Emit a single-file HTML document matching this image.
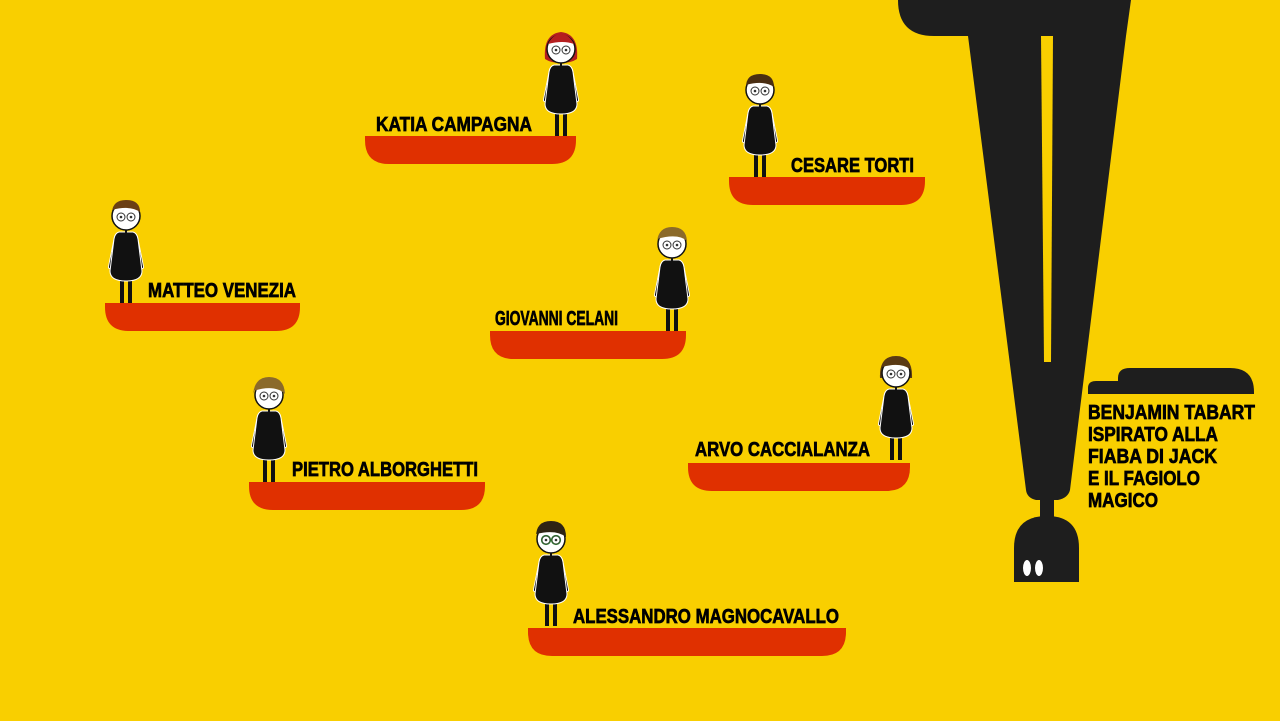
<!DOCTYPE html>
<html><head><meta charset="utf-8"><style>
html,body{margin:0;padding:0;background:#f9cf00;}
svg{display:block}
text{font-family:"Liberation Sans",sans-serif;font-weight:bold;font-size:20px;fill:#000;stroke:#000;stroke-width:0.7}
</style></head><body>
<svg width="1280" height="721" viewBox="0 0 1280 721" xmlns="http://www.w3.org/2000/svg">
<rect width="1280" height="721" fill="#f9cf00"/>
<defs>
<g id="fig">
  <rect x="-6" y="80" width="4" height="24" fill="#111"/>
  <rect x="2" y="80" width="4" height="24" fill="#111"/>
  <path d="M-10,38 L-16,68" stroke="#fff" stroke-width="4" stroke-linecap="round"/>
  <path d="M10,38 L16,68" stroke="#fff" stroke-width="4" stroke-linecap="round"/>
  <path d="M-10,38 L-16,68" stroke="#111" stroke-width="2.2" stroke-linecap="round"/>
  <path d="M10,38 L16,68" stroke="#111" stroke-width="2.2" stroke-linecap="round"/>
  <path d="M-7,33 L7,33 Q11,34 12,40 L16,72 Q16,82 0,82 Q-16,82 -16,72 L-12,40 Q-11,34 -7,33Z" fill="#111" stroke="#fff" stroke-width="1"/>
  <rect x="-1" y="28" width="2" height="6" fill="#111"/>
  <circle cx="0" cy="17" r="14" fill="#fff" stroke="#111" stroke-width="1.5"/>
  <circle cx="-5" cy="18" r="4" fill="none" stroke="#333" stroke-width="1"/>
  <circle cx="5" cy="18" r="4" fill="none" stroke="#333" stroke-width="1"/>
  <circle cx="-5" cy="18" r="1.3" fill="#333"/>
  <circle cx="5" cy="18" r="1.3" fill="#333"/>
</g>
</defs>

<path d="M898,0 L1131,0 L1126,36 L934,36 Q898,36 898,0Z" fill="#1e1e1e"/>
<path d="M968,36 L1126,36 L1070,490 Q1068,498 1058,500 L1036,500 Q1027,498 1026,490 Z" fill="#1e1e1e"/>
<path d="M1041,36 L1053,36 L1051,362 L1044,362 Z" fill="#f9cf00"/>
<rect x="1040" y="495" width="14" height="22" fill="#1e1e1e"/>
<path d="M1014,582 L1014,548 Q1014,516 1047,516 Q1079,516 1079,548 L1079,582 Z" fill="#1e1e1e"/>
<ellipse cx="1027" cy="568" rx="4" ry="8" fill="#fff"/>
<ellipse cx="1039" cy="568" rx="4" ry="8" fill="#fff"/>
<path d="M1118,394 L1118,378 Q1118,368 1130,368 L1230,368 Q1254,368 1254,392 L1254,394 Z" fill="#1e1e1e"/>
<path d="M1088,394 L1088,388 Q1088,381 1096,381 L1120,381 L1120,394 Z" fill="#1e1e1e"/>
<text x="1088" y="419" textLength="167" lengthAdjust="spacingAndGlyphs">BENJAMIN TABART</text>
<text x="1088" y="441" textLength="130" lengthAdjust="spacingAndGlyphs">ISPIRATO ALLA</text>
<text x="1088" y="463" textLength="129" lengthAdjust="spacingAndGlyphs">FIABA DI JACK</text>
<text x="1088" y="485" textLength="112" lengthAdjust="spacingAndGlyphs">E IL FAGIOLO</text>
<text x="1088" y="507" textLength="70" lengthAdjust="spacingAndGlyphs">MAGICO</text>

<g fill="#e03000">
<path d="M365,136 H576 V140 Q576,164 552,164 H389 Q365,164 365,140Z"/>
<path d="M729,177 H925 V181 Q925,205 901,205 H753 Q729,205 729,181Z"/>
<path d="M105,303 H300 V307 Q300,331 276,331 H129 Q105,331 105,307Z"/>
<path d="M490,331 H686 V335 Q686,359 662,359 H514 Q490,359 490,335Z"/>
<path d="M249,482 H485 V486 Q485,510 461,510 H273 Q249,510 249,486Z"/>
<path d="M688,463 H910 V467 Q910,491 886,491 H712 Q688,491 688,467Z"/>
<path d="M528,628 H846 V632 Q846,656 822,656 H552 Q528,656 528,632Z"/>
</g>

<text x="376" y="131" textLength="156" lengthAdjust="spacingAndGlyphs">KATIA CAMPAGNA</text>
<text x="791" y="172" textLength="123" lengthAdjust="spacingAndGlyphs">CESARE TORTI</text>
<text x="148" y="297" textLength="148" lengthAdjust="spacingAndGlyphs">MATTEO VENEZIA</text>
<text x="495" y="325" textLength="123" lengthAdjust="spacingAndGlyphs">GIOVANNI CELANI</text>
<text x="292" y="476" textLength="186" lengthAdjust="spacingAndGlyphs">PIETRO ALBORGHETTI</text>
<text x="695" y="456" textLength="175" lengthAdjust="spacingAndGlyphs">ARVO CACCIALANZA</text>
<text x="573" y="623" textLength="266" lengthAdjust="spacingAndGlyphs">ALESSANDRO MAGNOCAVALLO</text>

<g transform="translate(561,32)">
  <path d="M-16,27 Q-18,2 0,0 Q18,2 16,27 Q10,31 0,31 Q-10,31 -16,27Z" fill="#b51f1f"/>
  <use href="#fig"/>
  <path d="M-13,12 Q-8,2 0,2 Q8,2 13,12 Q2,8 -13,12Z" fill="#b51f1f"/>
</g>
<g transform="translate(760,73)"><use href="#fig"/><path d="M-14,14 Q-14,1 0,1 Q14,1 14,14 Q4,7 -14,12Z" fill="#4a2e12"/></g>
<g transform="translate(126,199)"><use href="#fig"/><path d="M-14,13 Q-13,1 0,1 Q14,1 14,13 Q4,6 -14,11Z" fill="#6b3f14"/></g>
<g transform="translate(672,227)"><use href="#fig"/><path d="M-15,14 Q-13,0 0,0 Q14,0 15,14 Q6,6 -15,12Z" fill="#8b6a2a"/></g>
<g transform="translate(269,378)"><use href="#fig"/><path d="M-16,16 Q-14,-1 0,-1 Q15,-1 16,16 Q6,6 -16,13Z" fill="#8b6a2a"/></g>
<g transform="translate(896,356)"><path d="M-16,22 Q-17,0 0,0 Q17,0 16,22 Z" fill="#5a3a14"/><use href="#fig"/><path d="M-14,13 Q-13,1 0,1 Q14,1 14,13 Q4,6 -14,11Z" fill="#5a3a14"/></g>
<g transform="translate(551,522)"><use href="#fig"/><path d="M-15,15 Q-15,-1 0,-1 Q15,-1 15,15 Q5,7 -15,12Z" fill="#2e2414"/>
  <circle cx="-5" cy="18" r="4.5" fill="none" stroke="#2e6b2e" stroke-width="1.2"/><circle cx="5" cy="18" r="4.5" fill="none" stroke="#2e6b2e" stroke-width="1.2"/></g>
</svg>
</body></html>
